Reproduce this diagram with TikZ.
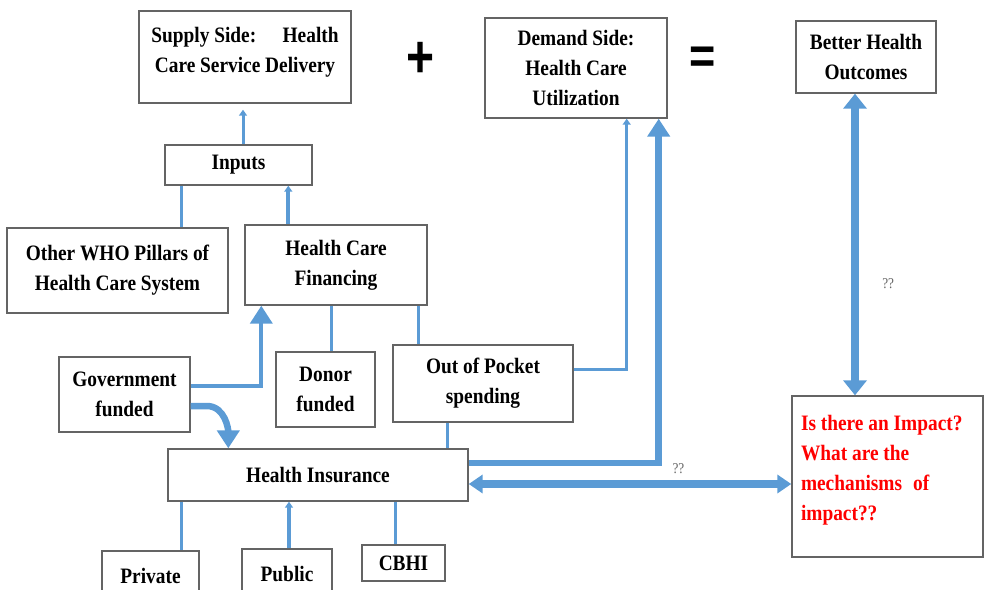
\documentclass[tikz,border=0pt]{standalone}
\usepackage{fontspec}
\setmainfont{Liberation Serif}[FakeStretch=0.88]
\newfontfamily\signfont{Liberation Sans}
\usepackage{xcolor}
\usetikzlibrary{arrows.meta,calc,positioning}
\definecolor{linkblue}{RGB}{91,155,213}
\definecolor{boxgray}{RGB}{100,100,100}
\definecolor{askred}{RGB}{255,0,0}

\begin{document}
\begin{tikzpicture}[x=1pt, y=-1pt,
    box/.style={draw=boxgray, line width=1.4pt, fill=white, inner sep=0pt, align=center,
        font=\bfseries\fontsize{22}{30}\selectfont},
    thinlink/.style={draw=linkblue, line width=3pt},
    midlink/.style={draw=linkblue, line width=4pt},
    thicklink/.style={draw=linkblue, line width=6.5pt},
    widelink/.style={draw=linkblue, line width=8pt},
    smalltip/.style={-{Triangle[width=8pt,length=6pt]}},
    bigtip/.style={-{Triangle[width=22pt,length=18pt]}},
    bothtips/.style={{Triangle[width=18pt,length=14pt]}-{Triangle[width=18pt,length=14pt]}},
    tallboth/.style={{Triangle[width=23pt,length=15pt]}-{Triangle[width=23pt,length=15pt]}},
    qlabel/.style={text=boxgray, font=\fontsize{15}{17}\selectfont},
    sign/.style={font=\signfont\bfseries\fontsize{60}{60}\selectfont}
]
    \useasboundingbox (0,0) rectangle (987,589);
    \clip (0,0) rectangle (987,589);

    % Top row: supply + demand = outcomes
    \node[box, minimum width=212, minimum height=92] (supply) at (245,57)
        {Supply Side:\hspace{1.2em}Health\\Care Service Delivery\\[-16pt]\mbox{}};
    \node[sign] (plus) at (421,60) {\scalebox{0.8}[1]{+}};
    \node[box, minimum width=182, minimum height=100] (demand) at (576,68)
        {Demand Side:\\Health Care\\Utilization};
    \node[sign] (equals) at (703,60) {\scalebox{0.75}[0.85]{=}};
    \node[box, minimum width=140, minimum height=72] (outcomes) at (866,57)
        {Better Health\\Outcomes};

    % Inputs and pillars
    \node[box, minimum width=147, minimum height=40] (inputs) at (238.5,165) {Inputs};
    \node[box, minimum width=221, minimum height=85] (pillars) at (117.5,270.5)
        {Other WHO Pillars of\\Health Care System};
    \node[box, minimum width=182, minimum height=80] (financing) at (336,265)
        {Health Care\\Financing};

    % Financing sources
    \node[box, minimum width=131, minimum height=75] (gov) at (124.5,394.5) {Government\\funded};
    \node[box, minimum width=99, minimum height=75] (donor) at (325.5,389.5) {Donor\\funded};
    \node[box, minimum width=180, minimum height=77] (oop) at (483,383.5) {Out of Pocket\\spending};

    % Insurance and schemes
    \node[box, minimum width=300, minimum height=52] (insurance) at (318,475) {Health Insurance};
    \node[box, minimum width=97, minimum height=50] (private) at (150.5,576) {Private};
    \node[box, minimum width=90, minimum height=50] (public) at (287,574) {Public};
    \node[box, minimum width=83, minimum height=36] (cbhi) at (403.5,563) {CBHI};

    % Research question
    \node[box, minimum width=191, minimum height=161, text width=173pt, align=flush left, text=askred]
        (impact) at (887.5,476.5)
        {Is there an Impact?\\What are the\\mechanisms\hspace{0.5em}of\\impact??\\[-12pt]\mbox{}};

    % Connectors, upper part
    \draw[thinlink, smalltip, shorten >=6pt] ([xshift=4.5pt]inputs.north) -- ([xshift=4.5pt]inputs.north |- supply.south);
    \draw[thinlink] ([xshift=17pt]inputs.south west) -- ([xshift=17pt]inputs.south west |- pillars.north);
    \draw[midlink, smalltip] ([xshift=44pt]financing.north west) -- ([xshift=44pt]financing.north west |- inputs.south);
    \draw[thinlink] ([xshift=87pt]financing.south west) -- ([xshift=87pt]financing.south west |- donor.north);
    \draw[thinlink] ([xshift=-9pt]financing.south east) -- ([xshift=-9pt]financing.south east |- oop.north);

    % Government funding
    \draw[midlink, bigtip] ([yshift=8.5pt]gov.east) -| ([xshift=17pt]financing.south west);
    \draw[thicklink, bigtip] ([yshift=-11.5pt]gov.east) -- ++(16,0)
        to[out=0, in=90] ([xshift=61pt]insurance.north west);

    % Out of pocket
    \draw[thinlink, smalltip] ([yshift=14.5pt]oop.east) -| ([xshift=-41pt]demand.south east);
    \draw[thinlink] ([xshift=55pt]oop.south west) -- ([xshift=55pt]oop.south west |- insurance.north);

    % Insurance to utilization and impact
    \draw[thicklink, bigtip] ([yshift=12pt]insurance.east) -| ([xshift=-9pt]demand.south east);
    \draw[widelink, bothtips] ([yshift=-9pt]insurance.east) -- ([yshift=-9pt]insurance.east -| impact.west)
        node[qlabel, pos=0.65, above=3pt] (q1) {??};
    \draw[widelink, tallboth] ([xshift=-11pt]outcomes.south) -- ([xshift=-11pt]outcomes.south |- impact.north)
        node[qlabel, pos=0.63, right=20pt] (q2) {??};

    % Insurance schemes
    \draw[thinlink] ([xshift=14pt]insurance.south west) -- ([xshift=14pt]insurance.south west |- private.north);
    \draw[midlink, smalltip] ([xshift=2pt]public.north) -- ([xshift=2pt]public.north |- insurance.south);
    \draw[thinlink] ([xshift=228pt]insurance.south west) -- ([xshift=228pt]insurance.south west |- cbhi.north);

\end{tikzpicture}
\end{document}
